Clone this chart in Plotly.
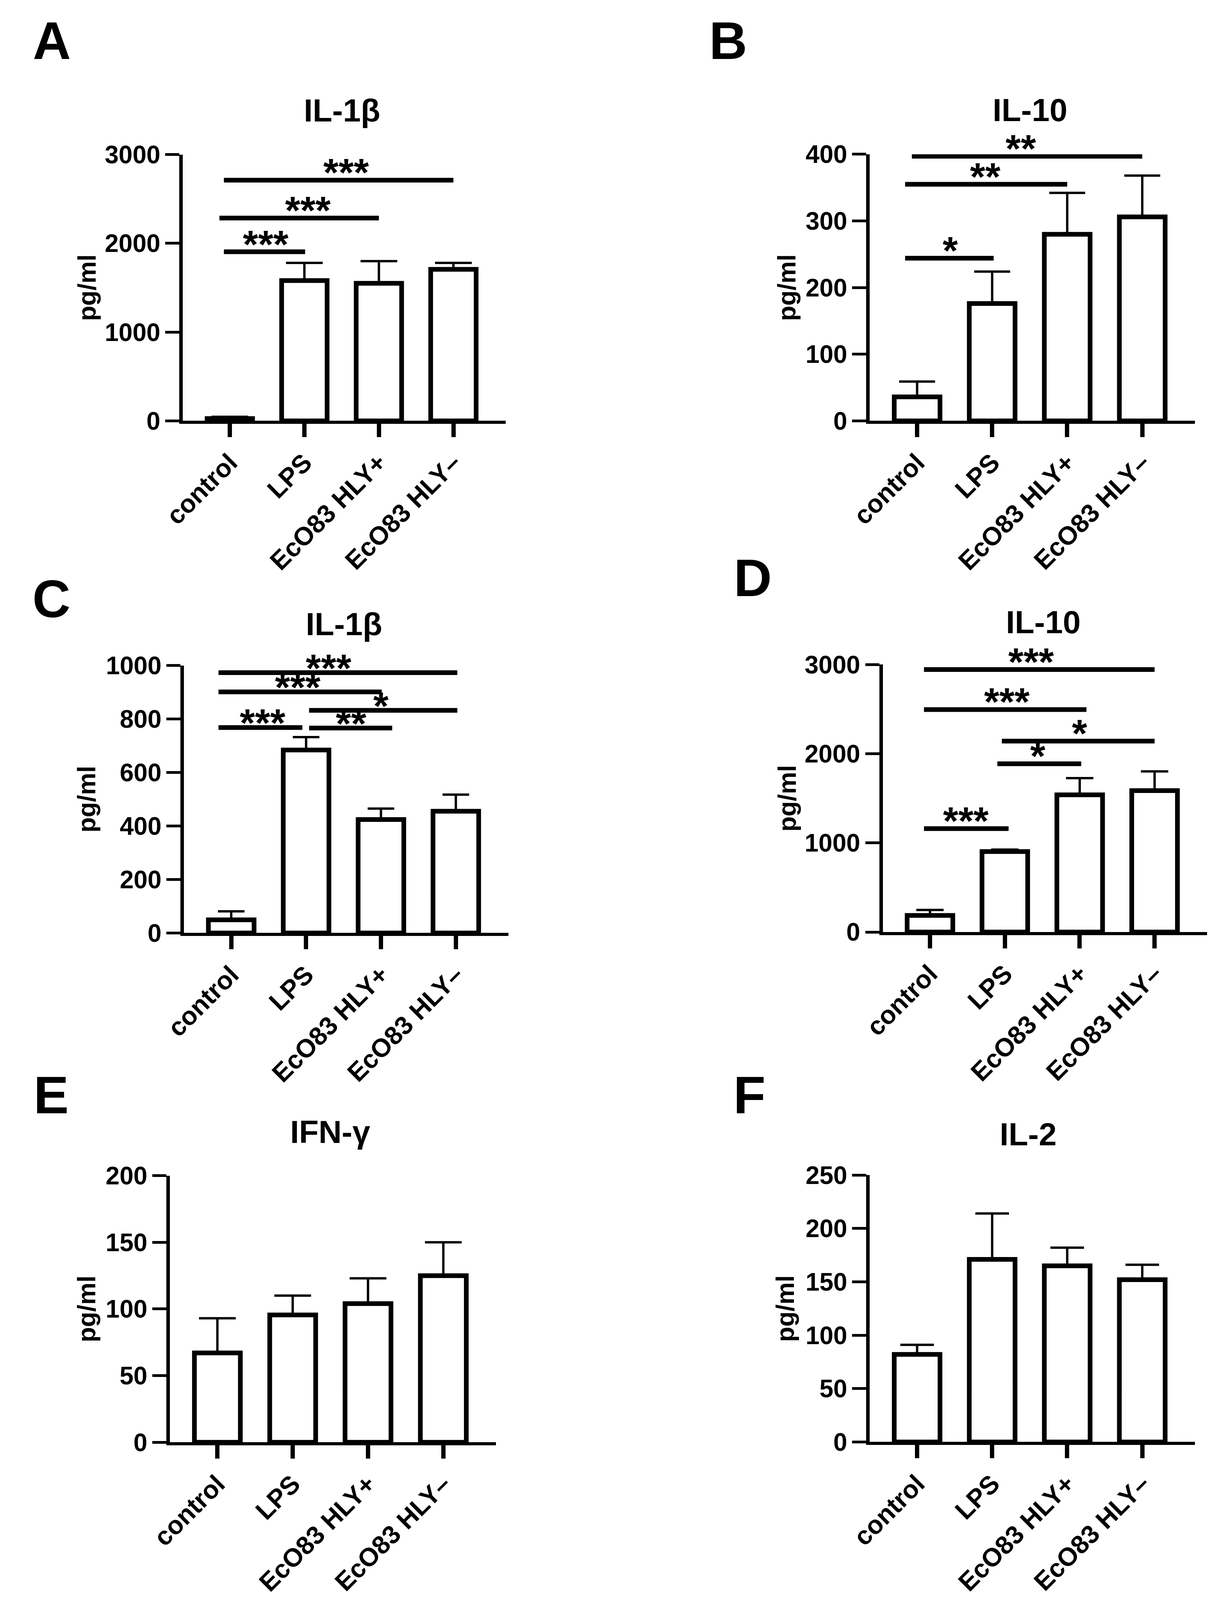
import plotly.graph_objects as go

# reference frame in px; every position below is turned into a paper fraction
W, H = 3137, 4944
FONT = "Liberation Sans, Arial, sans-serif"

groups = ["control", "LPS", "EcO83 HLY+", "EcO83 HLY–"]
xpos = [0, 1, 2, 3]

# A - IL-1β
a_mean = [26, 1580, 1550, 1707]
a_err = [20, 200, 249, 73]
a_ticks = [0, 1000, 2000, 3000]
a_sig = [(-0.08, 1.01, 1905, "***", 0.48),
         (-0.14, 2.00, 2285, "***", 1.05),
         (-0.08, 3.00, 2711, "***", 1.56)]

# B - IL-10
b_mean = [36, 176, 280, 306]
b_err = [23, 48, 62, 62]
b_ticks = [0, 100, 200, 300, 400]
b_sig = [(-0.16, 1.02, 244, "*", 0.44),
         (-0.16, 2.00, 355, "**", 0.91),
         (-0.07, 3.00, 397, "**", 1.38)]

# C - IL-1β
c_mean = [49, 684, 424, 455]
c_err = [32, 48, 41, 62]
c_ticks = [0, 200, 400, 600, 800, 1000]
c_sig = [(-0.17, 0.95, 768, "***", 0.42),
         (1.04, 2.15, 766, "**", 1.60),
         (1.04, 3.02, 832, "*", 2.00),
         (-0.17, 2.01, 901, "***", 0.89),
         (-0.17, 3.02, 973, "***", 1.30)]

# D - IL-10
d_mean = [186, 902, 1539, 1586]
d_err = [61, 22, 187, 215]
d_ticks = [0, 1000, 2000, 3000]
d_sig = [(-0.08, 1.05, 1160, "***", 0.48),
         (0.90, 2.02, 1887, "*", 1.44),
         (0.96, 3.00, 2141, "*", 2.00),
         (-0.08, 2.09, 2495, "***", 1.03),
         (-0.08, 3.00, 2943, "***", 1.35)]

# E - IFN-γ
e_mean = [67, 95.5, 104, 125]
e_err = [26, 14.5, 19, 25]
e_ticks = [0, 50, 100, 150, 200]

# F - IL-2
f_mean = [82, 171, 165, 152]
f_err = [9, 43, 17, 14]
f_ticks = [0, 50, 100, 150, 200, 250]

panels = [
    dict(letter="A", title="IL-1β", mean=a_mean, err=a_err, ticks=a_ticks, sig=a_sig, star_shift=-38,
         box=(413, 1259, 437, 1284), cap=47, letter_xy=(70, 75), title_xy=(830, 296), ylab_x=161),
    dict(letter="B", title="IL-10", mean=b_mean, err=b_err, ticks=b_ticks, sig=b_sig, star_shift=-38,
         box=(2214, 3066, 436, 1284), cap=46, letter_xy=(1843, 75), title_xy=(2634, 295), ylab_x=1997),
    dict(letter="C", title="IL-1β", mean=c_mean, err=c_err, ticks=c_ticks, sig=c_sig, star_shift=-46,
         box=(416, 1266, 2062, 2913), cap=34, letter_xy=(69, 1851), title_xy=(835, 1930), ylab_x=161),
    dict(letter="D", title="IL-10", mean=d_mean, err=d_err, ticks=d_ticks, sig=d_sig, star_shift=-38,
         box=(2248, 3098, 2059, 2910), cap=35, letter_xy=(1907, 1784), title_xy=(2669, 1924), ylab_x=1997),
    dict(letter="E", title="IFN-γ", mean=e_mean, err=e_err, ticks=e_ticks, sig=[], star_shift=0,
         box=(379, 1234, 3685, 4533), cap=47, letter_xy=(68, 3429), title_xy=(799, 3546), ylab_x=161),
    dict(letter="F", title="IL-2", mean=f_mean, err=f_err, ticks=f_ticks, sig=[], star_shift=0,
         box=(2214, 3066, 3683, 4532), cap=43, letter_xy=(1898, 3429), title_xy=(2629, 3553), ylab_x=1992),
]

fig = go.Figure()
annotations = []
shapes = []
axes = {}

for i, p in enumerate(panels):
    n = "" if i == 0 else str(i + 1)
    xa, ya = "x" + n, "y" + n
    left, right, top, bottom = p["box"]

    fig.add_trace(go.Bar(
        x=xpos, y=p["mean"], width=0.61,
        marker=dict(color="white", line=dict(color="black", width=12)),
        error_y=dict(type="data", array=p["err"], arrayminus=[0] * 4, symmetric=False,
                     color="black", thickness=6, width=p["cap"]),
        xaxis=xa, yaxis=ya, showlegend=False,
    ))

    axes["xaxis" + n] = dict(
        domain=[left / W, right / W], anchor=ya, range=[-0.63, 3.70],
        tickmode="array", tickvals=xpos, ticktext=groups, tickangle=-45,
        showline=True, linewidth=8, linecolor="black",
        ticks="outside", ticklen=34, tickwidth=11, tickcolor="black",
        showgrid=False, zeroline=False,
        tickfont=dict(family=FONT, size=66, color="black", weight="bold"),
    )
    axes["yaxis" + n] = dict(
        domain=[1 - bottom / H, 1 - top / H], anchor=xa,
        range=[0, p["ticks"][-1]], tickmode="array", tickvals=p["ticks"],
        showline=True, linewidth=9, linecolor="black",
        ticks="outside", ticklen=36, tickwidth=7, tickcolor="black",
        showgrid=False, zeroline=False,
        tickfont=dict(family=FONT, size=64, color="black", weight="bold"),
    )

    for x0, x1, y, label, xl in p["sig"]:
        shapes.append(dict(type="line", xref=xa, yref=ya, x0=x0, x1=x1, y0=y, y1=y,
                           line=dict(color="black", width=12)))
        annotations.append(dict(xref=xa, yref=ya, x=xl, y=y, text=label, showarrow=False,
                                xanchor="center", yanchor="bottom", yshift=p["star_shift"],
                                font=dict(family=FONT, size=100, color="black", weight="bold")))

    lx, ly = p["letter_xy"]
    annotations.append(dict(xref="paper", yref="paper", x=lx / W, y=1 - ly / H, text=p["letter"],
                            showarrow=False, xanchor="center", yanchor="middle",
                            font=dict(family=FONT, size=135, color="black", weight="bold")))
    tx, ty = p["title_xy"]
    annotations.append(dict(xref="paper", yref="paper", x=tx / W, y=1 - ty / H, text=p["title"],
                            showarrow=False, xanchor="center", yanchor="middle",
                            font=dict(family=FONT, size=82, color="black", weight="bold")))
    annotations.append(dict(xref="paper", yref="paper", x=p["ylab_x"] / W,
                            y=1 - (top + bottom) / 2 / H, text="pg/ml", textangle=-90,
                            showarrow=False, xanchor="center", yanchor="middle",
                            font=dict(family=FONT, size=64, color="black", weight="bold")))

fig.update_layout(
    autosize=True, margin=dict(l=0, r=0, t=0, b=0),
    paper_bgcolor="white", plot_bgcolor="white",
    annotations=annotations, shapes=shapes, showlegend=False,
    **axes,
)

# the figure takes the size of the browser window, so nothing falls off its bottom
fig.write_html("out.html", default_width="calc(100vw - 16px)", default_height="calc(100vh - 16px)")
